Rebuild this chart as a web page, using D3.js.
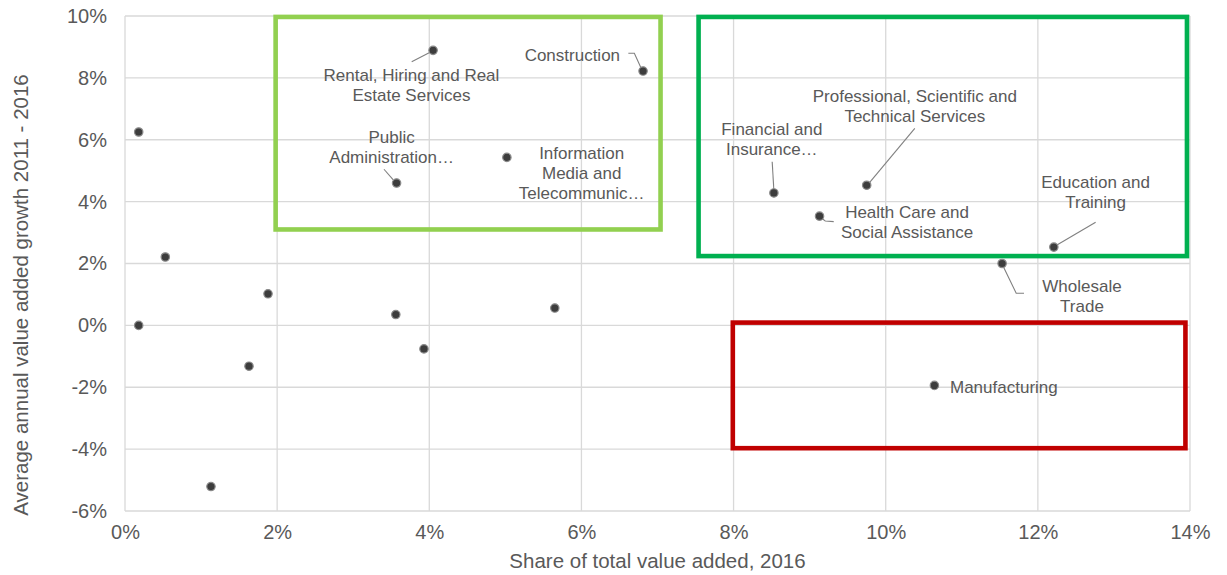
<!DOCTYPE html>
<html>
<head>
<meta charset="utf-8">
<script src="https://cdn.jsdelivr.net/npm/d3@7"></script>
<style>
  html, body { margin: 0; padding: 0; background: #fff; }
  svg { display: block; font-family: Arial, "Liberation Sans", sans-serif; }
</style>
</head>
<body>
<svg id="chart" width="1227" height="575"></svg>
<script>
// ---------------- DATA ----------------
// Share of total value added 2016 (%), average annual value added growth 2011-2016 (%)
const categories = [
  "Rental, Hiring and Real Estate Services",
  "Construction",
  "Public Administration…",
  "Information Media and Telecommunic…",
  "Financial and Insurance…",
  "Professional, Scientific and Technical Services",
  "Health Care and Social Assistance",
  "Education and Training",
  "Wholesale Trade",
  "Manufacturing",
  "", "", "", "", "", "", "", "", ""
];
const shareValues = [4.05, 6.81, 3.57, 5.02, 8.53, 9.75, 9.13, 12.21, 11.53, 10.64,
                     0.18, 0.53, 0.18, 1.88, 1.63, 1.13, 3.56, 3.93, 5.65];
const growthValues = [8.89, 8.22, 4.60, 5.43, 4.28, 4.53, 3.53, 2.53, 2.00, -1.94,
                      6.25, 2.21, 0.00, 1.02, -1.32, -5.21, 0.35, -0.76, 0.56];
// label lines shown on the chart
const labelLines = [
  ["Rental, Hiring and Real", "Estate Services"],
  ["Construction"],
  ["Public", "Administration…"],
  ["Information", "Media and", "Telecommunic…"],
  ["Financial and", "Insurance…"],
  ["Professional, Scientific and", "Technical Services"],
  ["Health Care and", "Social Assistance"],
  ["Education and", "Training"],
  ["Wholesale", "Trade"],
  ["Manufacturing"]
];
const xTicks = [0, 2, 4, 6, 8, 10, 12, 14];
const yTicks = [-6, -4, -2, 0, 2, 4, 6, 8, 10];
// highlight boxes [x0, x1, y0, y1] in data units
const boxX0 = [1.98, 7.54, 7.99];
const boxX1 = [7.04, 13.96, 13.94];
const boxY0 = [3.10, 2.24, -3.97];
const boxY1 = [9.97, 9.97, 0.09];

// ---------------- LAYOUT ----------------
const boxColors = ["#92D050", "#00B050", "#C00000"];
// label layout: offset of first line centre from point (px), anchor, leader polyline offsets
const labelLayout = [
  {dx: -21.6, dy: 24.7, anchor: "middle", leader: [[-21.4, 11.4], [-3, 2]]},
  {dx: -70.7, dy: -16.1, anchor: "middle", leader: [[-14.7, -17.8], [-8.7, -17.8], [-2, -3]]},
  {dx: -4.9, dy: -45.8, anchor: "middle", leader: [[-12.6, -13.8], [-3.3, -3.1]]},
  {dx: 74.8, dy: -4.7, anchor: "middle", leader: null},
  {dx: -2.1, dy: -64, anchor: "middle", leader: [[-1.7, -31.3], [-0.1, -4]]},
  {dx: 48.1, dy: -89.5, anchor: "middle", leader: [[48.1, -56.9], [2.8, -2.7]]},
  {dx: 87.5, dy: -3.9, anchor: "middle", leader: [[14.2, 5.5], [5.7, 4.8], [2.5, 2.3]]},
  {dx: 41.8, dy: -64.8, anchor: "middle", leader: [[41.8, -24.8], [3.1, -2.1]]},
  {dx: 79.9, dy: 22.2, anchor: "middle", leader: [[1.4, 3.5], [14.1, 29.8], [21.9, 29.8]]},
  {dx: 15.6, dy: 1.3, anchor: "start", leader: null}
];
const lineHeight = 20;

const svg = d3.select("#chart");
const x = d3.scaleLinear().domain([0, 14]).range([125, 1190]);
const y = d3.scaleLinear().domain([-6, 10]).range([511, 16]);
const textColor = "#595959";
const gridColor = "#d9d9d9";

// gridlines
svg.append("g").selectAll("line").data(yTicks).join("line")
  .attr("x1", x(0)).attr("x2", x(14))
  .attr("y1", d => y(d)).attr("y2", d => y(d))
  .attr("stroke", gridColor).attr("stroke-width", 1.3);
svg.append("g").selectAll("line").data(xTicks).join("line")
  .attr("x1", d => x(d)).attr("x2", d => x(d))
  .attr("y1", y(-6)).attr("y2", y(10))
  .attr("stroke", gridColor).attr("stroke-width", 1.3);

// axes (labels only)
const xAxis = d3.axisBottom(x).tickValues(xTicks).tickFormat(d => d + "%").tickSize(0).tickPadding(14);
const gx = svg.append("g").attr("transform", `translate(0,${y(-6)})`).call(xAxis);
gx.select(".domain").remove();
gx.selectAll("text").attr("fill", textColor).style("font-size", "20px").style("font-family", "Arial, 'Liberation Sans', sans-serif");

const yAxis = d3.axisLeft(y).tickValues(yTicks).tickFormat(d => d + "%").tickSize(0).tickPadding(18);
const gy = svg.append("g").attr("transform", `translate(${x(0)},0)`).call(yAxis);
gy.select(".domain").remove();
gy.selectAll("text").attr("fill", textColor).style("font-size", "20px").style("font-family", "Arial, 'Liberation Sans', sans-serif");

// axis titles
svg.append("text")
  .attr("x", (x(0) + x(14)) / 2).attr("y", 568)
  .attr("text-anchor", "middle").attr("fill", textColor).style("font-size", "20.5px")
  .text("Share of total value added, 2016");
svg.append("text")
  .attr("transform", `translate(28,295) rotate(-90)`)
  .attr("text-anchor", "middle").attr("fill", textColor).style("font-size", "20.5px")
  .text("Average annual value added growth 2011 - 2016");

// highlight boxes
svg.append("g").selectAll("rect").data(boxX0).join("rect")
  .attr("x", (d, i) => x(boxX0[i]))
  .attr("y", (d, i) => y(boxY1[i]))
  .attr("width", (d, i) => x(boxX1[i]) - x(boxX0[i]))
  .attr("height", (d, i) => y(boxY0[i]) - y(boxY1[i]))
  .attr("fill", "none")
  .attr("stroke", (d, i) => boxColors[i])
  .attr("stroke-width", 4.6);

// points data
const pts = shareValues.map((s, i) => ({name: categories[i], sx: s, gy: growthValues[i], i}));

// leader lines
const line = d3.line();
svg.append("g").selectAll("path").data(pts.filter(p => labelLayout[p.i] && labelLayout[p.i].leader)).join("path")
  .attr("d", p => line(labelLayout[p.i].leader.map(o => [x(p.sx) + o[0], y(p.gy) + o[1]])))
  .attr("fill", "none").attr("stroke", "#808080").attr("stroke-width", 1.1);

// markers
svg.append("g").selectAll("circle").data(pts).join("circle")
  .attr("cx", p => x(p.sx)).attr("cy", p => y(p.gy))
  .attr("r", 4.2)
  .attr("fill", "#3d3d3d")
  .attr("stroke", "#8a8a8a").attr("stroke-width", 1.2);

// labels
const lbl = svg.append("g").selectAll("text").data(pts.filter(p => p.name !== "")).join("text")
  .attr("text-anchor", p => labelLayout[p.i].anchor)
  .attr("fill", textColor)
  .style("font-size", "17px");
lbl.each(function(p) {
  const L = labelLayout[p.i];
  const t = d3.select(this);
  labelLines[p.i].forEach((ln, k) => {
    t.append("tspan")
      .attr("x", x(p.sx) + L.dx)
      .attr("y", y(p.gy) + L.dy + k * lineHeight)
      .attr("dy", "0.35em")
      .text(ln);
  });
});
</script>
</body>
</html>
